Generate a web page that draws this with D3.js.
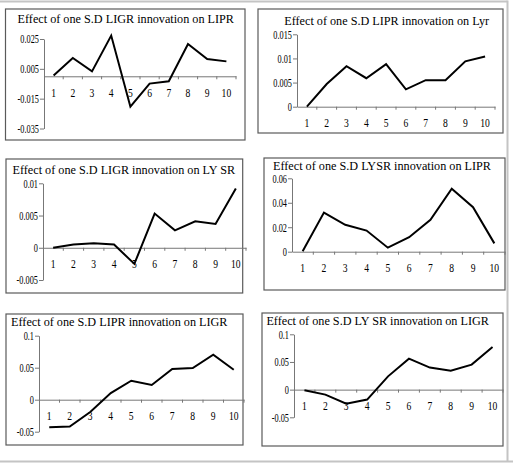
<!DOCTYPE html>
<html><head><meta charset="utf-8">
<script src="https://cdn.jsdelivr.net/npm/d3@7"></script>
<style>body{margin:0;background:#fff} svg{display:block}</style>
</head><body>
<svg id="c" width="513" height="463"></svg>
<script>
// ---------- data ----------
const periods = [1, 2, 3, 4, 5, 6, 7, 8, 9, 10];
const titles = [
  "Effect of one S.D LIGR innovation on LIPR",
  "Effect of one S.D LIPR innovation on Lyr",
  "Effect of one S.D LIGR innovation on LY SR",
  "Effect of one S.D LYSR innovation on LIPR",
  "Effect of one S.D LIPR innovation on LIGR",
  "Effect of one S.D LY SR innovation on LIGR"
];
const ligrOnLipr = [0.0005, 0.0123, 0.0033, 0.0273, -0.0204, -0.0049, -0.0033, 0.0216, 0.0116, 0.0100];
const liprOnLyr  = [0.0000, 0.0047, 0.0084, 0.0059, 0.0088, 0.0036, 0.0055, 0.0055, 0.0094, 0.0104];
const ligrOnLysr = [0.0000, 0.0005, 0.0007, 0.0005, -0.0025, 0.0053, 0.0027, 0.0041, 0.0037, 0.0092];
const lysrOnLipr = [0.0003, 0.0320, 0.0220, 0.0173, 0.0033, 0.0118, 0.0260, 0.0515, 0.0364, 0.0068];
const liprOnLigr = [-0.0432, -0.0420, -0.0193, 0.0104, 0.0297, 0.0229, 0.0479, 0.0495, 0.0703, 0.0469];
const lysrOnLigr = [-0.0012, -0.0090, -0.0253, -0.0180, 0.0240, 0.0560, 0.0398, 0.0343, 0.0452, 0.0770];
const yTicks1 = [-0.035, -0.015, 0.005, 0.025];
const yTicks2 = [0, 0.005, 0.01, 0.015];
const yTicks3 = [-0.005, 0, 0.005, 0.01];
const yTicks4 = [0, 0.02, 0.04, 0.06];
const yTicks5 = [-0.05, 0, 0.05, 0.1];
const yTicks6 = [-0.05, 0, 0.05, 0.1];

// ---------- layout ----------
const series = [ligrOnLipr, liprOnLyr, ligrOnLysr, lysrOnLipr, liprOnLigr, lysrOnLigr];
const yTickSets = [yTicks1, yTicks2, yTicks3, yTicks4, yTicks5, yTicks6];
const layout = [
  {box:[5.5, 9, 245, 140],   tx:125.8, ty:23,    yr:[128.5, 39],   xr:[44, 236]},
  {box:[258, 9, 503, 133],   tx:386.7, ty:24.5,  yr:[106.7, 34.3], xr:[297, 495]},
  {box:[6, 159, 242.7, 293], tx:123.8, ty:174,   yr:[280, 183.3],  xr:[43, 246]},
  {box:[264, 158, 505, 290], tx:382,   ty:170,   yr:[251.7, 178.3],xr:[292, 505]},
  {box:[6, 314, 243, 445],   tx:119.3, ty:326,   yr:[431.7, 335.7],xr:[39, 244]},
  {box:[262, 313, 503, 446], tx:377.7, ty:325.3, yr:[417.3, 334.3],xr:[294, 503]}
];

const svg = d3.select("#c");
const FONT = "'Liberation Serif','Times New Roman',serif";
const fmt = d => String(+d.toFixed(4));

// outer frame lines
svg.append("line").attr("x1",0).attr("x2",507.5).attr("y1",1.5).attr("y2",1.5).attr("stroke","#c4c4c4").attr("stroke-width",2);
svg.append("line").attr("x1",507.5).attr("x2",507.5).attr("y1",0.5).attr("y2",461.5).attr("stroke","#c4c4c4").attr("stroke-width",2);
svg.append("line").attr("x1",0).attr("x2",513).attr("y1",461.5).attr("y2",461.5).attr("stroke","#c4c4c4").attr("stroke-width",2);

layout.forEach((L, i) => {
  const g = svg.append("g");
  const [bx0, by0, bx1, by1] = L.box;
  g.append("rect").attr("x",bx0).attr("y",by0).attr("width",bx1-bx0).attr("height",by1-by0)
    .attr("fill","#fff").attr("stroke","#5a5a5a").attr("stroke-width",1.2);

  g.append("text").attr("x",L.tx).attr("y",L.ty).attr("text-anchor","middle")
    .attr("font-family",FONT).attr("font-size",12.2).attr("fill","#000").text(titles[i]);

  const ticks = yTickSets[i];
  const y = d3.scaleLinear().domain(d3.extent(ticks)).range(L.yr);
  const x = d3.scaleBand().domain(periods).range(L.xr).paddingInner(0).paddingOuter(0);

  // y axis
  const ya = g.append("g").attr("transform",`translate(${L.xr[0]},0)`)
    .call(d3.axisLeft(y).tickValues(ticks).tickFormat(fmt).tickSize(4).tickSizeOuter(0));
  ya.select(".domain").attr("stroke","#777");
  ya.selectAll(".tick line").attr("stroke","#777");
  ya.selectAll(".tick text").attr("x",null).attr("dy",null)
    .attr("transform","translate(-5,3.8) scale(0.72,1)")
    .attr("font-family",FONT).attr("font-size",11.5).attr("fill","#000");

  // x axis at zero
  const y0 = y(0);
  const xa = g.append("g").attr("transform",`translate(0,${y0})`)
    .call(d3.axisBottom(x).tickSize(0).tickSizeOuter(0));
  xa.select(".domain").attr("stroke","#777");
  xa.selectAll(".tick text").attr("y",null).attr("dy",null)
    .attr("transform","translate(0,20.5) scale(0.8,1)")
    .attr("font-family",FONT).attr("font-size",12).attr("fill","#000");
  // boundary tick marks
  xa.selectAll("line.bt").data(periods).enter().append("line").attr("class","bt")
    .attr("x1",d => x(d) + x.bandwidth()).attr("x2",d => x(d) + x.bandwidth())
    .attr("y1",0).attr("y2",3).attr("stroke","#777");

  // series line
  const line = d3.line().x((d, j) => x(periods[j]) + x.bandwidth()/2).y(d => y(d));
  g.append("path").datum(series[i]).attr("d",line)
    .attr("fill","none").attr("stroke","#000").attr("stroke-width",2).attr("stroke-linejoin","miter");
});
</script>
</body></html>
